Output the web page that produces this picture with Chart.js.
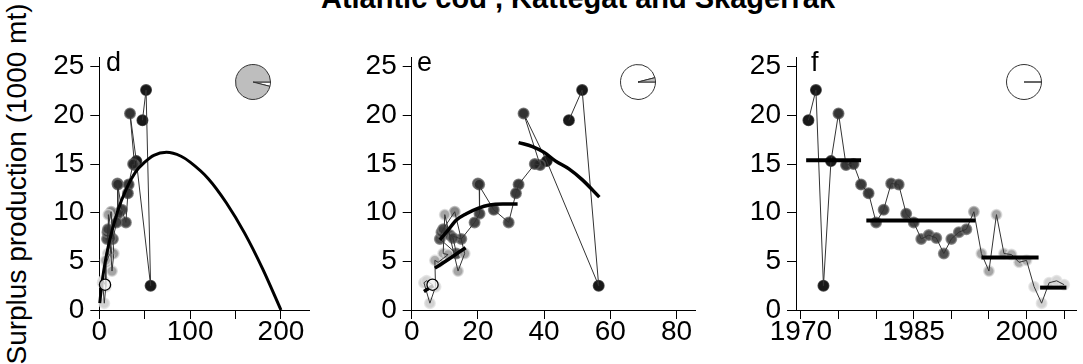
<!DOCTYPE html>
<html>
<head>
<meta charset="utf-8">
<script src="https://cdn.jsdelivr.net/npm/chart.js@4/dist/chart.umd.min.js"></script>
<style>
  html, body { margin: 0; padding: 0; background: #fff; }
  body { width: 1083px; height: 364px; position: relative; overflow: hidden; font-family: "Liberation Sans", Arial, sans-serif; }
  canvas { position: absolute; }
  .txt { position: absolute; white-space: nowrap; color: #000; }
  #title { left: 78px; width: 1000px; top: -16.5px; text-align: center; font-weight: bold; font-size: 29px; line-height: 29px; }
  #ylab { left: -182.9px; width: 400px; top: 170px; text-align: center; font-size: 28px; line-height: 28px; transform: rotate(-90deg); }
  .letter { top: 49px; font-size: 27px; line-height: 27px; }
</style>
</head>
<body>
<div id="title" class="txt">Atlantic cod , Kattegat and Skagerrak</div>
<div id="ylab" class="txt">Surplus production (1000 mt)</div>

<canvas id="chart-d" width="300" height="364" style="left:30px;top:0;width:300px;height:364px"></canvas>
<canvas id="chart-e" width="370" height="364" style="left:340px;top:0;width:370px;height:364px"></canvas>
<canvas id="chart-f" width="363" height="364" style="left:720px;top:0;width:363px;height:364px"></canvas>

<canvas id="pie-d" width="38" height="38" style="left:234px;top:63px;width:38px;height:38px"></canvas>
<canvas id="pie-e" width="38" height="38" style="left:619px;top:63px;width:38px;height:38px"></canvas>
<canvas id="pie-f" width="38" height="38" style="left:1005px;top:63px;width:38px;height:38px"></canvas>

<div class="txt letter" style="left:106px">d</div>
<div class="txt letter" style="left:417px">e</div>
<div class="txt letter" style="left:811px">f</div>

<script>
// surplus production time series, 1971-2005
const years = [1971, 1972, 1973, 1974, 1975, 1976, 1977, 1978, 1979, 1980,
  1981, 1982, 1983, 1984, 1985, 1986, 1987, 1988, 1989, 1990,
  1991, 1992, 1993, 1994, 1995, 1996, 1997, 1998, 1999, 2000,
  2001, 2002, 2003, 2004, 2005]
const surplus = [19.5, 22.6, 2.5, 15.3, 20.2, 14.9, 15.0, 12.9, 12.0, 9.0,
  10.3, 13.0, 12.9, 9.9, 9.0, 7.3, 7.7, 7.4, 5.8, 7.3,
  8.0, 8.3, 10.1, 5.8, 4.0, 9.8, 5.8, 5.7, 4.9, 5.1,
  2.4, 0.7, 2.8, 3.0, 2.6]
// x of panels d and e
const biomass = [47.5, 51.5, 56.5, 40.8, 33.8, 38.8, 37.2, 32.3, 31.5, 29.3,
  24.8, 20.0, 20.4, 20.5, 19.0, 15.0, 11.5, 12.5, 13.5, 8.5,
  9.0, 9.5, 13.0, 16.0, 14.0, 10.0, 9.5, 11.0, 8.0, 7.0,
  7.2, 5.5, 3.7, 4.5, 6.3]

// fitted production curve (panel d)
const foxB = [0.5, 2, 5, 10, 20, 30, 40, 50, 60, 74, 90, 100, 120, 140, 160, 180, 200]
const foxP = [0.7, 2.0, 4.1, 6.6, 10.1, 12.5, 14.2, 15.2, 15.9, 16.2, 15.8, 15.2, 13.5, 11.0, 7.9, 4.2, 0]

// regime curves (panel e)
const regimeCurveX = [
  [32.3, 36.5, 40, 43.5, 47.5, 51.5, 56.7],
  [8.5, 11, 13.5, 16.5, 20, 23.5, 27.5, 32],
  [7.0, 11.5, 16.3],
  [3.7, 6.5],
]
const regimeCurveY = [
  [17.2, 16.8, 16.2, 15.3, 14.5, 13.4, 11.6],
  [7.2, 8.2, 9.25, 9.9, 10.45, 10.8, 10.9, 10.9],
  [4.3, 5.3, 6.4],
  [1.9, 2.5],
]

// regime means (panel f)
const regimeStart = [1970.7, 1978.7, 1994.0, 2001.8]
const regimeEnd = [1978.0, 1993.2, 2001.6, 2005.3]
const regimeMean = [15.4, 9.2, 5.4, 2.3]

// pie glyphs
const pieD = [4, 96]
const pieE = [96, 4]
const pieF = [100, 0]

// axes
const yTicks = [0, 5, 10, 15, 20, 25]
const xTicksD = [0, 50, 100, 150, 200]
const xLabelsD = [0, 100, 200]
const xTicksE = [0, 20, 40, 60, 80]
const xLabelsE = [0, 20, 40, 60, 80]
const xTicksF = [1970, 1975, 1980, 1985, 1990, 1995, 2000, 2005]
const xLabelsF = [1970, 1985, 2000]

// grey level of each year's point (style)
const shade = [0, 0, 0, 0, 30, 35, 35, 35, 35, 45,
  45, 45, 45, 45, 45, 60, 60, 60, 60, 60,
  60, 60, 120, 155, 155, 155, 160, 160, 165, 165,
  205, 205, 205, 210, 210]

const FONT = 'Liberation Sans'
const tickFont = { family: FONT, size: 28, lineHeight: 1 }

const pts = (xs, ys) => xs.map((x, i) => ({ x, y: ys[i] }))

const yScale = (width) => ({
  type: 'linear',
  min: 0,
  max: 26,
  afterBuildTicks: (s) => { s.ticks = yTicks.map((v) => ({ value: v })) },
  afterFit: (s) => { s.width = width },
  grid: { drawOnChartArea: false, drawTicks: true, tickLength: 9, color: '#000', lineWidth: 1 },
  border: { display: true, color: '#000', width: 1 },
  ticks: { color: '#000', font: tickFont, padding: 6 },
})

const xScale = (min, max, ticks, labels) => ({
  type: 'linear',
  min,
  max,
  afterBuildTicks: (s) => { s.ticks = ticks.map((v) => ({ value: v })) },
  afterFit: (s) => { s.height = 54 },
  grid: { drawOnChartArea: false, drawTicks: true, tickLength: 9, color: '#000', lineWidth: 1 },
  border: { display: true, color: '#000', width: 1 },
  ticks: {
    color: '#000',
    font: tickFont,
    padding: -1,
    maxRotation: 0,
    autoSkip: false,
    callback: (v) => (labels.includes(v) ? String(v) : ''),
  },
})

const pointSet = (xs) => ({
  data: pts(xs, surplus),
  showLine: false,
  pointRadius: 5.2,
  pointBorderWidth: 1.6,
  pointBackgroundColor: shade.map((g) => `rgba(${g},${g},${g},0.9)`),
  pointBorderColor: shade.map((g) => {
    const h = g === 0 ? 20 : Math.min(g + 60, 225)
    return `rgba(${h},${h},${h},0.75)`
  }),
  clip: false,
  order: 3,
})

const pathSet = (xs) => ({
  data: pts(xs, surplus),
  showLine: true,
  pointRadius: 0,
  borderColor: '#333',
  borderWidth: 1,
  clip: false,
  order: 2,
})

const curveSet = (xs, ys, width) => ({
  data: pts(xs, ys),
  showLine: true,
  pointRadius: 0,
  borderColor: '#000',
  borderWidth: width,
  cubicInterpolationMode: 'monotone',
  clip: false,
  order: 1,
})

const lastSet = () => ({
  data: [{ x: biomass[biomass.length - 1], y: surplus[surplus.length - 1] }],
  showLine: false,
  pointRadius: 5.6,
  pointBorderWidth: 1.3,
  pointBorderColor: '#000',
  pointBackgroundColor: 'rgba(255,255,255,0.75)',
  clip: false,
  order: 0,
})

const baseOptions = (padding, x, y) => ({
  responsive: false,
  animation: false,
  events: [],
  layout: { padding },
  plugins: { legend: { display: false }, tooltip: { enabled: false } },
  scales: { x, y },
})

// panel d
new Chart(document.getElementById('chart-d'), {
  type: 'scatter',
  data: {
    datasets: [
      pointSet(biomass),
      pathSet(biomass),
      curveSet(foxB, foxP, 3),
      lastSet(),
    ],
  },
  options: baseOptions({ left: 0, right: 21, top: 57, bottom: 0 },
    xScale(0, 230.9, xTicksD, xLabelsD), yScale(69.3)),
})

// panel e
new Chart(document.getElementById('chart-e'), {
  type: 'scatter',
  data: {
    datasets: [
      pointSet(biomass),
      pathSet(biomass),
      ...regimeCurveX.map((xs, i) => curveSet(xs, regimeCurveY[i], 3.5)),
      lastSet(),
    ],
  },
  options: baseOptions({ left: 0, right: 15, top: 57, bottom: 0 },
    xScale(0, 85.6, xTicksE, xLabelsE), yScale(71.7)),
})

// panel f
new Chart(document.getElementById('chart-f'), {
  type: 'scatter',
  data: {
    datasets: [
      pointSet(years),
      pathSet(years),
      ...regimeMean.map((m, i) => ({
        data: [{ x: regimeStart[i], y: m }, { x: regimeEnd[i], y: m }],
        showLine: true,
        pointRadius: 0,
        borderColor: '#000',
        borderWidth: 4,
        clip: false,
        order: 1,
      })),
    ],
  },
  options: baseOptions({ left: 0, right: 0, top: 57, bottom: 0 },
    xScale(1969.35, 2006.6, xTicksF, xLabelsF), yScale(76)),
})

// pie glyphs
const pie = (id, values, colors) => new Chart(document.getElementById(id), {
  type: 'pie',
  data: { datasets: [{ data: values, backgroundColor: colors, borderColor: '#333', borderWidth: 1 }] },
  options: {
    responsive: false,
    animation: false,
    events: [],
    rotation: 90,
    layout: { padding: 1 },
    plugins: { legend: { display: false }, tooltip: { enabled: false } },
  },
})
pie('pie-d', pieD, ['#ffffff', '#bebebe'])
pie('pie-e', pieE, ['#ffffff', '#bebebe'])
pie('pie-f', pieF, ['#ffffff', '#bebebe'])
</script>
</body>
</html>
